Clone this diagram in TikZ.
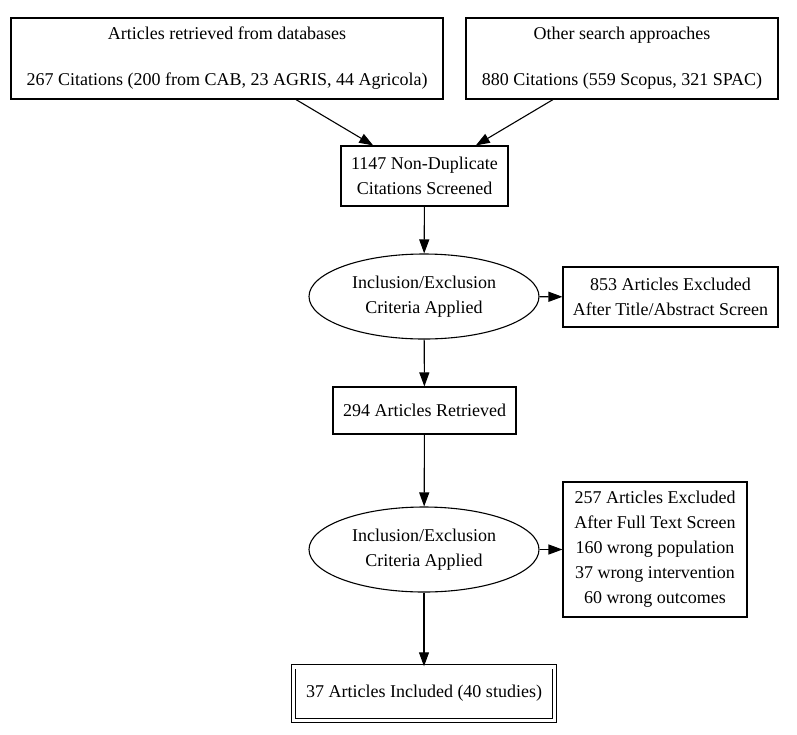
\documentclass[tikz,border=0pt]{standalone}
\usepackage{fontspec}
\setmainfont{Liberation Serif}
\usetikzlibrary{shapes.geometric, arrows.meta}

\tikzset{
  box/.style={draw, line width=1.1pt, rectangle, align=center, inner sep=0pt},
  crit/.style={draw, line width=1.1pt, ellipse, align=center, inner sep=0pt,
    minimum width=230pt, minimum height=85pt},
  flow/.style={line width=1.1pt, -{Triangle[length=14pt, width=10pt]}}
}

\begin{document}
\begin{tikzpicture}[x=1pt, y=-1pt, font=\fontsize{18}{25}\selectfont]
          \useasboundingbox (0,0) rectangle (797,734);

          % Search sources
          \node[box, minimum width=432pt, minimum height=81pt] (db) at (227,58.5)
            {Articles retrieved from databases\\[21pt]267 Citations (200 from CAB, 23 AGRIS, 44 Agricola)};
          \node[box, minimum width=312pt, minimum height=81pt] (other) at (622,58.5)
            {Other search approaches\\[21pt]880 Citations (559 Scopus, 321 SPAC)};

          % Screening
          \node[box, minimum width=167pt, minimum height=60pt] (nondup) at (424.5,176)
            {1147 Non-Duplicate\\Citations Screened};
          \node[crit] (crit1) at (424,296.5) {Inclusion/Exclusion\\Criteria Applied};
          \node[box, minimum width=215pt, minimum height=60pt] (excl1) at (670.5,297)
            {853 Articles Excluded\\After Title/Abstract Screen};

          % Full text
          \node[box, minimum width=183pt, minimum height=47pt] (retr) at (424.5,410.5)
            {294 Articles Retrieved};
          \node[crit] (crit2) at (424,549.5) {Inclusion/Exclusion\\Criteria Applied};
          \node[box, minimum width=184pt, minimum height=135pt] (excl2) at (655,549.5)
            {257 Articles Excluded\\After Full Text Screen\\160 wrong population\\37 wrong intervention\\60 wrong outcomes};

          % Final set
          \node[box, double, double distance=3.5pt, line width=0.9pt,
            minimum width=261pt, minimum height=53.5pt] (incl) at (424,693.5)
            {37 Articles Included (40 studies)};

          % Arrows
          \draw[flow] (db) -- (nondup);
          \draw[flow] (other) -- (nondup);
          \draw[flow] (nondup) -- (crit1);
          \draw[flow] (crit1) -- (excl1);
          \draw[flow] (crit1) -- (retr);
          \draw[flow] (retr) -- (crit2);
          \draw[flow] (crit2) -- (excl2);
          \draw[flow] (crit2) -- (incl);

        \end{tikzpicture}
\end{document}
